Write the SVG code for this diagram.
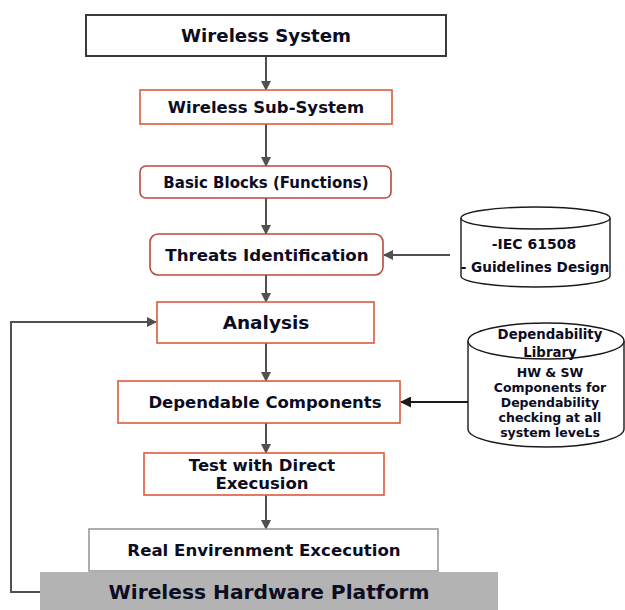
<svg xmlns="http://www.w3.org/2000/svg" width="625" height="610" viewBox="0 0 625 610">
  <defs>
    <marker id="arr" markerWidth="10" markerHeight="10" refX="9" refY="5" orient="auto" markerUnits="userSpaceOnUse">
      <path d="M0,0 L10,5 L0,10 z" fill="#505050"/>
    </marker>
    <marker id="arrk" markerWidth="11" markerHeight="11" refX="10" refY="5.5" orient="auto" markerUnits="userSpaceOnUse">
      <path d="M0,0 L11,5.5 L0,11 z" fill="#1a1a1a"/>
    </marker>
    <style>
      .t { font-family: "DejaVu Sans", Verdana, sans-serif; font-weight: bold; fill: #0c0c22; text-anchor: middle; }
      .red { fill: #fff; stroke: #dc5a3c; stroke-width: 1.6; }
      .dred { fill: #fff; stroke: #b84a40; stroke-width: 1.6; }
      .cyl { fill: #fff; stroke: #1a1a1a; stroke-width: 1.4; }
      .ln { fill: none; stroke: #505050; stroke-width: 2; }
    </style>
  </defs>

  <!-- connectors -->
  <g id="connectors">
    <line class="ln" x1="266" y1="56" x2="266" y2="90" marker-end="url(#arr)"/>
    <line class="ln" x1="266" y1="124" x2="266" y2="166" marker-end="url(#arr)"/>
    <line class="ln" x1="266" y1="198" x2="266" y2="234" marker-end="url(#arr)"/>
    <line class="ln" x1="266" y1="275" x2="266" y2="302" marker-end="url(#arr)"/>
    <line class="ln" x1="266" y1="343" x2="266" y2="381" marker-end="url(#arr)"/>
    <line class="ln" x1="266" y1="423" x2="266" y2="453" marker-end="url(#arr)"/>
    <line class="ln" x1="266" y1="495" x2="266" y2="529" marker-end="url(#arr)"/>
    <line class="ln" x1="450" y1="255" x2="384" y2="255" marker-end="url(#arr)"/>
    <line x1="468" y1="402" x2="401" y2="402" stroke="#1a1a1a" stroke-width="1.8" marker-end="url(#arrk)"/>
    <polyline class="ln" points="41,592 11,592 11,322 156,322" marker-end="url(#arr)"/>
  </g>

  <g id="wireless-system">
    <rect x="86" y="15" width="360" height="41" fill="#fff" stroke="#3a3a3a" stroke-width="2"/>
    <text class="t" x="266" y="42" font-size="18.2">Wireless System</text>
  </g>

  <g id="wireless-sub-system">
    <rect class="red" x="140" y="90" width="252" height="34"/>
    <text class="t" x="266" y="113" font-size="16.5">Wireless Sub-System</text>
  </g>

  <g id="basic-blocks">
    <rect class="dred" x="140" y="166" width="251" height="32" rx="6"/>
    <text class="t" x="266" y="188" font-size="15">Basic Blocks (Functions)</text>
  </g>

  <g id="threats-identification">
    <rect class="dred" x="150" y="234" width="233" height="41" rx="8"/>
    <text class="t" x="267" y="261" font-size="16.7">Threats Identification</text>
  </g>

  <g id="standards-db">
    <path class="cyl" d="M461,218 L461,276 A74.5,11 0 0 0 610,276 L610,218"/>
    <ellipse class="cyl" cx="535.5" cy="218" rx="74.5" ry="11"/>
    <text class="t" x="534" y="249" font-size="14">-IEC 61508</text>
    <text class="t" x="535" y="272" font-size="13.6">- Guidelines Design</text>
  </g>

  <g id="analysis">
    <rect class="red" x="157" y="302" width="217" height="41"/>
    <text class="t" x="266" y="329" font-size="18.5">Analysis</text>
  </g>

  <g id="dependable-components">
    <rect class="red" x="118" y="381" width="282" height="42"/>
    <text class="t" x="265" y="408" font-size="16.5">Dependable Components</text>
  </g>

  <g id="dependability-library">
    <path class="cyl" d="M468,341 L468,429 A78,18 0 0 0 624,429 L624,341"/>
    <ellipse class="cyl" cx="546" cy="341" rx="78" ry="18"/>
    <text class="t" x="550" y="339" font-size="13.3">Dependability</text>
    <text class="t" x="550" y="357" font-size="13.3">Library</text>
    <text class="t" x="550" y="377" font-size="12.5">HW &amp; SW</text>
    <text class="t" x="550" y="392" font-size="12.5">Components for</text>
    <text class="t" x="550" y="407" font-size="12.5">Dependability</text>
    <text class="t" x="550" y="422" font-size="12.5">checking at all</text>
    <text class="t" x="550" y="437" font-size="12.5">system leveLs</text>
  </g>

  <g id="test-direct-execution">
    <rect class="red" x="144" y="453" width="240" height="42"/>
    <text class="t" x="262" y="471" font-size="16.5">Test with Direct</text>
    <text class="t" x="262" y="489" font-size="16.5">Execusion</text>
  </g>

  <g id="real-environment-execution">
    <rect x="89" y="529" width="349" height="42" fill="#fff" stroke="#9a9a9a" stroke-width="1.6"/>
    <text class="t" x="264" y="556" font-size="16.6">Real Envirenment Excecution</text>
  </g>

  <g id="hardware-platform">
    <rect x="40" y="572" width="458" height="38" fill="#b3b3b3"/>
    <text class="t" x="269" y="599" font-size="20.2">Wireless Hardware Platform</text>
  </g>
</svg>
